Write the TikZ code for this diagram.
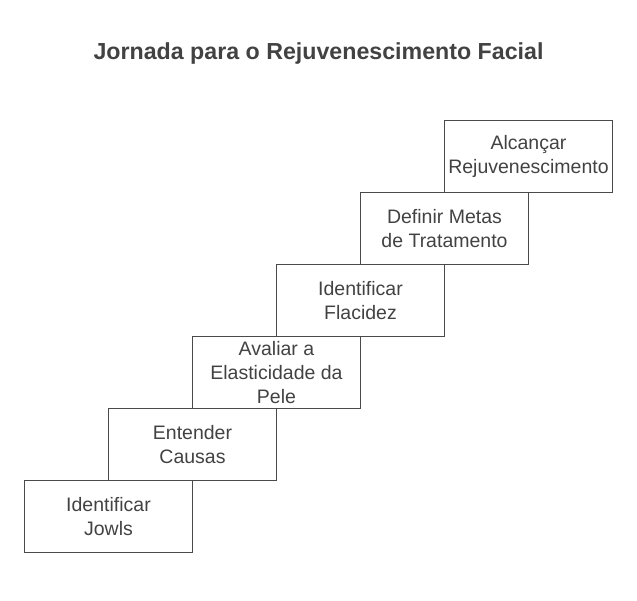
\documentclass[tikz,border=0pt]{standalone}
\usepackage{fontspec}
\setmainfont{Liberation Sans}
\definecolor{txt}{HTML}{424242}
\definecolor{edge}{HTML}{4A4A4A}
\begin{document}
\begin{tikzpicture}[x=1pt,y=-1pt,
  stepbox/.style={draw=edge,line width=1pt,minimum width=168pt,minimum height=72pt,
    inner sep=0pt,align=center,text=txt,font=\fontsize{19.5}{24}\selectfont,anchor=north west},
  titlenode/.style={text=txt,font=\fontsize{23.2}{28}\selectfont\bfseries}]
\useasboundingbox (0,0) rectangle (637,601);
\node[titlenode] (title) at (318.5,54) {Jornada para o Rejuvenescimento Facial};
\node[stepbox] (s1) at (24,480) {Identificar\\Jowls};
\node[stepbox] (s2) at (108,408) {Entender\\Causas};
\node[stepbox] (s3) at (192,336) {Avaliar a\\Elasticidade da\\Pele};
\node[stepbox] (s4) at (276,264) {Identificar\\Flacidez};
\node[stepbox] (s5) at (360,192) {Definir Metas\\de Tratamento};
\node[stepbox] (s6) at (444,120) {Alcançar\\Rejuvenescimento};
\end{tikzpicture}
\end{document}
